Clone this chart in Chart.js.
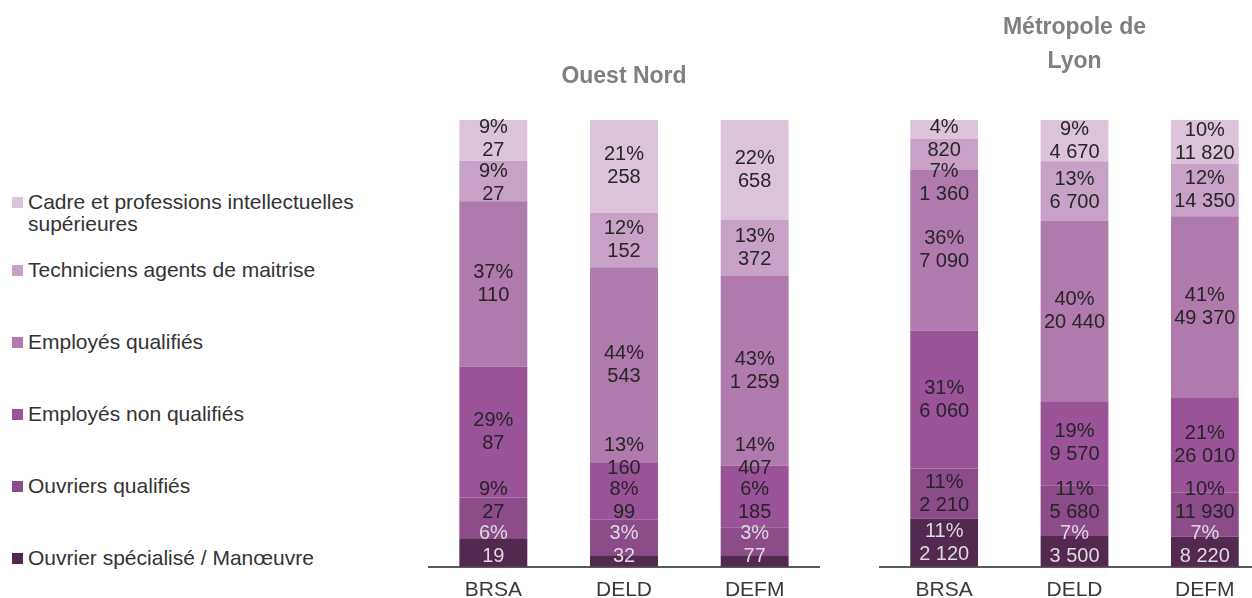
<!DOCTYPE html>
<html lang="fr">
<head>
<meta charset="utf-8">
<title>Catégories socioprofessionnelles</title>
<script src="https://cdn.jsdelivr.net/npm/chart.js@4/dist/chart.umd.min.js"></script>
<style>
  html, body { margin: 0; padding: 0; background: #fff; }
  body { width: 1252px; height: 598px; overflow: hidden; position: relative;
         font-family: "Liberation Sans", Arial, sans-serif; }
  .panel { position: absolute; top: 0; }
  #legend { position: absolute; left: 0; top: 0; }
  .item { position: absolute; left: 12px; display: flex; align-items: flex-start;
          font-size: 21px; line-height: 22px; color: #333; }
  .item .box { width: 11px; height: 11px; margin: 6px 5px 0 0; flex: none; }
  .item .txt { width: 340px; }
</style>
</head>
<body>
<div id="legend"></div>
<div class="panel" style="left:428px"><canvas id="ouestNord" width="392" height="614"></canvas></div>
<div class="panel" style="left:879px"><canvas id="lyon" width="391" height="614"></canvas></div>

<script>
const categories = ['BRSA', 'DELD', 'DEFM'];

// series, top of the stack first (same order as the legend)
const seriesNames = [
  'Cadre et professions intellectuelles supérieures',
  'Techniciens agents de maitrise',
  'Employés qualifiés',
  'Employés non qualifiés',
  'Ouvriers qualifiés',
  'Ouvrier spécialisé / Manœuvre'
];
const seriesColors = ['#dbc3da', '#c8a2c6', '#b07aac', '#9a5298', '#8c4b89', '#53294f'];

// Ouest Nord (BRSA, DELD, DEFM)
const onCadre = [27, 258, 658];
const onTech = [27, 152, 372];
const onEmpQual = [110, 543, 1259];
const onEmpNonQual = [87, 160, 407];
const onOuvQual = [27, 99, 185];
const onOuvSpec = [19, 32, 77];

// Métropole de Lyon (BRSA, DELD, DEFM)
const lyCadre = [820, 4670, 11820];
const lyTech = [1360, 6700, 14350];
const lyEmpQual = [7090, 20440, 49370];
const lyEmpNonQual = [6060, 9570, 26010];
const lyOuvQual = [2210, 5680, 11930];
const lyOuvSpec = [2120, 3500, 8220];

const FONT = '"Liberation Sans", Arial, sans-serif';

function fmt(v) {
  return String(v).replace(/\B(?=(\d{3})+(?!\d))/g, ' ');
}

// legend
const legend = document.getElementById('legend');
seriesNames.forEach((name, i) => {
  const item = document.createElement('div');
  item.className = 'item';
  item.style.top = (i === 0 ? 191 : 259 + 72 * (i - 1)) + 'px';
  item.innerHTML = '<span class="box" style="background:' + seriesColors[i] + '"></span><span class="txt"></span>';
  item.querySelector('.txt').textContent = name;
  legend.appendChild(item);
});

// labels "xx%" + count inside each segment, nudged apart when segments are thin
const segmentLabels = {
  id: 'segmentLabels',
  afterDatasetsDraw(chart) {
    const { ctx, chartArea } = chart;
    const sets = chart.data.datasets;
    const gap = 44;
    ctx.save();
    ctx.font = '20px ' + FONT;
    ctx.textAlign = 'center';
    ctx.textBaseline = 'middle';
    categories.forEach((c, i) => {
      const items = sets.map((ds, d) => {
        const el = chart.getDatasetMeta(d).data[i];
        return { x: el.x, y: (el.y + el.base) / 2, ds };
      });
      let limit = chartArea.bottom - 22;
      items.forEach(it => { it.y = Math.min(it.y, limit); limit = it.y - gap; });
      limit = chartArea.top + 19;
      for (let d = items.length - 1; d >= 0; d--) {
        items[d].y = Math.max(items[d].y, limit);
        limit = items[d].y + gap;
      }
      items.forEach(it => {
        ctx.fillStyle = it.ds.labelColor;
        ctx.fillText(Math.round(it.ds.data[i]) + '%', it.x, it.y - 11.5);
        ctx.fillText(fmt(it.ds.counts[i]), it.x, it.y + 11.5);
      });
    });
    ctx.restore();
  }
};

function makeChart(id, title, titlePadding, series) {
  const totals = categories.map((c, i) => series.reduce((s, arr) => s + arr[i], 0));
  const datasets = series.map((arr, k) => ({
    label: seriesNames[k],
    data: arr.map((v, i) => v / totals[i] * 100),
    counts: arr,
    backgroundColor: seriesColors[k],
    labelColor: k === series.length - 1 ? '#dcdcdc' : '#262626',
    borderWidth: 0,
    barPercentage: 0.52,
    categoryPercentage: 1
  })).reverse();

  return new Chart(document.getElementById(id), {
    type: 'bar',
    data: { labels: categories, datasets },
    options: {
      responsive: false,
      animation: false,
      layout: { padding: 0 },
      plugins: {
        legend: { display: false },
        tooltip: { enabled: false },
        title: {
          display: true,
          text: title,
          color: '#7f7f7f',
          font: { family: FONT, size: 23, weight: 'bold', lineHeight: 1.48 },
          padding: titlePadding
        }
      },
      scales: {
        x: {
          stacked: true,
          grid: { display: false, drawTicks: false },
          border: { display: true, color: '#595959', width: 2 },
          ticks: { color: '#3a3a3a', padding: 11, font: { family: FONT, size: 21 } }
        },
        y: {
          stacked: true,
          display: false,
          min: 0,
          max: 100
        }
      }
    },
    plugins: [segmentLabels]
  });
}

makeChart('ouestNord', 'Ouest Nord', { top: 60, bottom: 26 },
  [onCadre, onTech, onEmpQual, onEmpNonQual, onOuvQual, onOuvSpec]);
makeChart('lyon', ['Métropole de', 'Lyon'], { top: 11, bottom: 41 },
  [lyCadre, lyTech, lyEmpQual, lyEmpNonQual, lyOuvQual, lyOuvSpec]);
</script>
</body>
</html>
